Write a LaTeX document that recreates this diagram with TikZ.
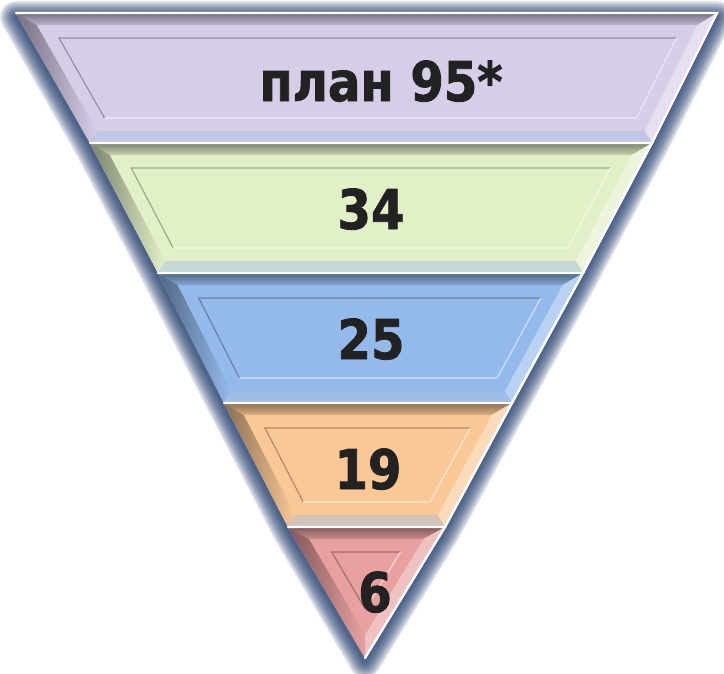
\documentclass[tikz,border=0pt]{standalone}
\usepackage{fontspec}
\setmainfont{DejaVu Sans}[FakeStretch=0.88, BoldFeatures={FakeBold=1.5}]
\definecolor{cA}{RGB}{216,205,232}
\definecolor{cB}{RGB}{226,240,200}
\definecolor{cC}{RGB}{148,186,236}
\definecolor{cD}{RGB}{250,200,150}
\definecolor{cE}{RGB}{232,160,160}
\definecolor{btint}{RGB}{170,192,228}
\definecolor{shblue}{RGB}{22,50,100}
\definecolor{txt}{RGB}{34,34,34}
% #1 xl top, #2 xr top, #3 y top, #4 xl bottom, #5 xr bottom, #6 y bottom, #7 colour
\newcommand\insetpts[2]{% #1 distance, #2 prefix letter
  \pgfmathsetmacro\ytd{\yt+#1}%
  \pgfmathsetmacro\yx{\yt+(\xrt-\xlt-(\kL+\kR)*#1)/(\sL-\sR)}%
  \pgfmathsetmacro\ybd{min(\yb-#1,\yx)}%
  \pgfmathsetmacro\xa{\xlt+\sL*(\ytd-\yt)+\kL*#1}%
  \pgfmathsetmacro\xb{\xrt+\sR*(\ytd-\yt)-\kR*#1}%
  \pgfmathsetmacro\xc{\xrt+\sR*(\ybd-\yt)-\kR*#1}%
  \pgfmathsetmacro\xd{\xlt+\sL*(\ybd-\yt)+\kL*#1}%
  \coordinate (#21) at (\xa,\ytd);
  \coordinate (#22) at (\xb,\ytd);
  \coordinate (#23) at (\xc,\ybd);
  \coordinate (#24) at (\xd,\ybd);
}
\newcommand\drawband[7]{%
  \pgfmathsetmacro\xlt{#1}\pgfmathsetmacro\xrt{#2}\pgfmathsetmacro\yt{#3}%
  \pgfmathsetmacro\xlb{#4}\pgfmathsetmacro\xrb{#5}\pgfmathsetmacro\yb{#6}%
  \pgfmathsetmacro\sL{(\xlb-\xlt)/(\yb-\yt)}%
  \pgfmathsetmacro\sR{(\xrb-\xrt)/(\yb-\yt)}%
  \pgfmathsetmacro\kL{sqrt(1+\sL*\sL)}%
  \pgfmathsetmacro\kR{sqrt(1+\sR*\sR)}%
  \coordinate (O1) at (\xlt,\yt);
  \coordinate (O2) at (\xrt,\yt);
  \coordinate (O3) at (\xrb,\yb);
  \coordinate (O4) at (\xlb,\yb);
  \insetpts{12}{A}
  \insetpts{25}{B}
  \fill[#7] (O1)--(O2)--(O3)--(O4)--cycle;
  \shade[top color=#7!55!black, bottom color=#7!88!black] (O1)--(O2)--(A2)--(A1)--cycle;
  \shade[left color=#7!55!black, right color=#7] (O4)--(O1)--(A1)--(A4)--cycle;
  \fill[#7!65!white] (O2)--(O3)--(A3)--(A2)--cycle;
  \fill[#7!50!btint] (O3)--(O4)--(A4)--(A3)--cycle;
  \draw[white, line width=1.8pt, line cap=round] (O1)--(O2)--(O3);
  \draw[#7!70!black, line width=0.9pt] (B4)--(B1)--(B2);
  \draw[white!55!#7, line width=0.9pt] (B2)--(B3)--(B4);
}
\tikzset{lbl/.style={text=txt, font=\fontsize{41}{41}\selectfont\bfseries, inner sep=0pt, anchor=base}}
\begin{document}
\begin{tikzpicture}[x=0.75pt,y=-0.75pt]
\useasboundingbox (0,0) rectangle (724,674);
% soft shadow around the whole funnel
\begin{scope}[yshift=-3pt]
\foreach \w in {24,22,...,2}{
  \draw[shblue, line width=\w pt, opacity=0.11, line join=round]
    (16,13) -- (717,13) -- (652,143) -- (583,273) -- (512,403) -- (445,527) -- (365,658)
    -- (288,527) -- (224,403) -- (158,273) -- (90,143) -- cycle;
}
\end{scope}
\drawband{16}{717}{13}{90}{652}{143}{cA}
\drawband{90}{652}{143}{158}{583}{273}{cB}
\drawband{158}{583}{273}{224}{512}{403}{cC}
\drawband{224}{512}{403}{288}{445}{527}{cD}
\drawband{288}{445}{527}{365}{365}{658}{cE}
\node[lbl] (t1) at (381,101) {план 95*};
\node[lbl] (t2) at (371,229) {34};
\node[lbl] (t3) at (371,359) {25};
\node[lbl] (t4) at (368,489) {19};
\node[lbl] (t5) at (375,612) {6};
\end{tikzpicture}
\end{document}
